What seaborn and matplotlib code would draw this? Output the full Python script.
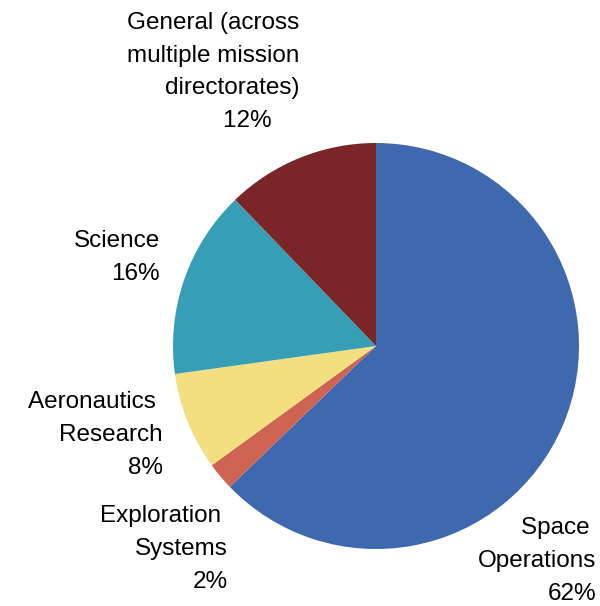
import matplotlib.pyplot as plt
import seaborn as sns

# --- Data ---
categories = ["Space\nOperations", "Exploration\nSystems", "Aeronautics\nResearch",
              "Science", "General (across\nmultiple mission\ndirectorates)"]
# wedge sizes as drawn in the chart, and the percentages printed on it
shares = [62.8, 2.2, 7.8, 15.0, 12.2]
printed_pct = [62, 2, 8, 16, 12]
colors = ["#3E69AE", "#CF6352", "#F4DF80", "#369EB5", "#7A2628"]

sns.set_theme(style="white")
plt.rcParams['font.family'] = ['Liberation Sans', 'DejaVu Sans']

W, H = 600, 606
fig = plt.figure(figsize=(W / 100, H / 100), dpi=100)
ax = fig.add_axes([0, 0, 1, 1])

# pie centre / radius in pixel units (y measured from top)
cx, cy, r = 376, 346, 203
ax.pie(shares, colors=colors, startangle=90, counterclock=False,
       center=(cx, H - cy), radius=r, frame=True,
       wedgeprops=dict(linewidth=0))
ax.set_xlim(0, W)
ax.set_ylim(0, H)
ax.set_aspect("equal")
ax.axis("off")

# label anchors: right edge x, vertical centre y (pixels from top), trailing pad
label_pos = [(596, 561, [" ", "", ""]),
             (228, 549, [" ", "", ""]),
             (163, 435, [" ", "", ""]),
             (160, 257.5, ["", ""]),
             (299, 72, ["", "", "", "    "])]

for cat, val, (x, y, pads) in zip(categories, printed_pct, label_pos):
    lines = cat.split("\n") + [f"{val}%"]
    lines = [ln + p for ln, p in zip(lines, pads)]
    ax.text(x, H - y, "\n".join(lines), ha="right", va="center",
            multialignment="right", fontsize=17.5, linespacing=1.62,
            color="black")

fig.savefig("out.png", dpi=100)
